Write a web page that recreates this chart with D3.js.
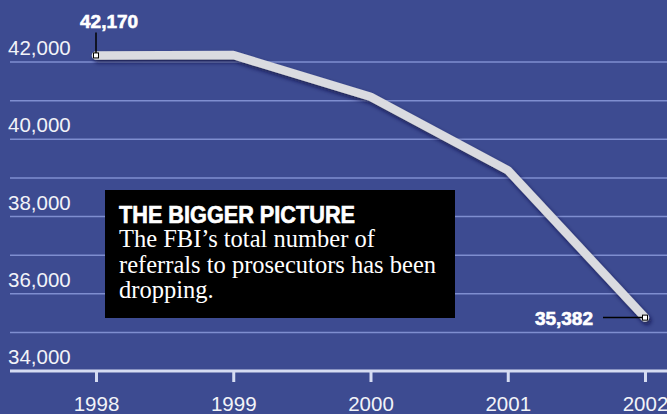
<!DOCTYPE html>
<html>
<head>
<meta charset="utf-8">
<script src="https://cdn.jsdelivr.net/npm/d3@7"></script>
<style>
  body { margin: 0; background: #3d4b91; }
  svg { display: block; }
</style>
</head>
<body>
<div id="chart"></div>
<script>
// FBI referrals to prosecutors, 1998-2002
var years = [1998, 1999, 2000, 2001, 2002];
var referrals = [42170, 42180, 41100, 39200, 35382];
var gridValues = [34000, 35000, 36000, 37000, 38000, 39000, 40000, 41000, 42000];
var labelValues = [34000, 36000, 38000, 40000, 42000];
var boxTitle = "THE BIGGER PICTURE";
var boxLines = ["The FBI\u2019s total number of",
                "referrals to prosecutors has been",
                "dropping."];

var width = 667,
    height = 414;

var svg = d3.select("#chart")
  .append("svg")
  .attr("width", width)
  .attr("height", height);

// background
svg.append("rect")
  .attr("width", width)
  .attr("height", height)
  .attr("fill", "#3d4b91");

// scales
var x = d3.scaleLinear()
  .domain([1998, 2002])
  .range([96, 645]);

var y = d3.scaleLinear()
  .domain([34000, 42000])
  .range([371, 62]);

// shadow under the line
var defs = svg.append("defs");
var shadow = defs.append("filter")
  .attr("id", "shadow")
  .attr("x", "-10%").attr("y", "-10%")
  .attr("width", "130%").attr("height", "130%");
shadow.append("feDropShadow")
  .attr("dx", 2)
  .attr("dy", 3)
  .attr("stdDeviation", 2)
  .attr("flood-color", "#0d1540")
  .attr("flood-opacity", 0.75);

// gridlines
svg.selectAll(".grid")
  .data(gridValues.filter(function(d) { return d > 34000; }))
  .enter()
  .append("line")
  .attr("class", "grid")
  .attr("x1", 10)
  .attr("x2", width)
  .attr("y1", function(d) { return y(d); })
  .attr("y2", function(d) { return y(d); })
  .attr("stroke", "#7f8ed0")
  .attr("stroke-width", 1.5);

// y labels sit above their gridline
svg.selectAll(".ylabel")
  .data(labelValues)
  .enter()
  .append("text")
  .attr("class", "ylabel")
  .attr("x", 8)
  .attr("y", function(d) { return y(d) - 7; })
  .attr("fill", "#f2f3f8")
  .style("font-family", "Liberation Sans, Arial, sans-serif")
  .style("font-size", "20.5px")
  .text(function(d) { return d3.format(",")(d); });

// x axis
var xAxis = d3.axisBottom(x)
  .tickValues(years)
  .tickFormat(d3.format("d"))
  .tickSize(11)
  .tickPadding(14);

var gx = svg.append("g")
  .attr("transform", "translate(0," + y(34000) + ")")
  .call(xAxis);

gx.select(".domain").remove();
gx.append("line")
  .attr("x1", 10)
  .attr("x2", width)
  .attr("stroke", "#d6dcf2")
  .attr("stroke-width", 3);
gx.selectAll(".tick line")
  .attr("stroke", "#d6dcf2")
  .attr("stroke-width", 3);
gx.selectAll(".tick text")
  .attr("fill", "#f2f3f8")
  .style("font-family", "Liberation Sans, Arial, sans-serif")
  .style("font-size", "20.5px");

// the line
var data = years.map(function(d, i) { return {year: d, value: referrals[i]}; });

var line = d3.line()
  .x(function(d) { return x(d.year); })
  .y(function(d) { return y(d.value); });

svg.append("path")
  .datum(data)
  .attr("d", line)
  .attr("fill", "none")
  .attr("stroke", "#dadbe0")
  .attr("stroke-width", 8.5)
  .attr("stroke-linecap", "round")
  .attr("stroke-linejoin", "round")
  .attr("filter", "url(#shadow)");

// end point callouts
var first = data[0],
    last = data[data.length - 1];

svg.append("line")
  .attr("x1", x(first.year))
  .attr("x2", x(first.year))
  .attr("y1", y(first.value) - 23)
  .attr("y2", y(first.value))
  .attr("stroke", "#000")
  .attr("stroke-width", 1.5);

svg.append("line")
  .attr("x1", x(last.year) - 42)
  .attr("x2", x(last.year))
  .attr("y1", y(last.value))
  .attr("y2", y(last.value))
  .attr("stroke", "#000")
  .attr("stroke-width", 1.5);

svg.selectAll(".marker")
  .data([first, last])
  .enter()
  .append("rect")
  .attr("class", "marker")
  .attr("x", function(d) { return x(d.year) - 2.5; })
  .attr("y", function(d) { return y(d.value) - 2.5; })
  .attr("width", 5)
  .attr("height", 5)
  .attr("fill", "#fff")
  .attr("stroke", "#000")
  .attr("stroke-width", 1);

svg.append("text")
  .attr("x", x(first.year) - 16)
  .attr("y", y(first.value) - 27)
  .attr("fill", "#fff")
  .attr("stroke", "#fff")
  .attr("stroke-width", 0.6)
  .style("font-family", "Liberation Sans, Arial, sans-serif")
  .style("font-weight", "bold")
  .style("font-size", "19px")
  .text(d3.format(",")(first.value));

svg.append("text")
  .attr("x", x(last.year) - 52)
  .attr("y", y(last.value) + 7)
  .attr("text-anchor", "end")
  .attr("fill", "#fff")
  .attr("stroke", "#fff")
  .attr("stroke-width", 0.6)
  .style("font-family", "Liberation Sans, Arial, sans-serif")
  .style("font-weight", "bold")
  .style("font-size", "19px")
  .text(d3.format(",")(last.value));

// black text box
var box = svg.append("g")
  .attr("transform", "translate(105,190)");

box.append("rect")
  .attr("width", 350)
  .attr("height", 128)
  .attr("fill", "#000");

box.append("text")
  .attr("x", 14)
  .attr("y", 33)
  .attr("fill", "#fff")
  .attr("stroke", "#fff")
  .attr("stroke-width", 0.6)
  .attr("textLength", 236)
  .attr("lengthAdjust", "spacingAndGlyphs")
  .style("font-family", "Liberation Sans, Arial, sans-serif")
  .style("font-weight", "bold")
  .style("font-size", "23px")
  .text(boxTitle);

box.selectAll(".body")
  .data(boxLines)
  .enter()
  .append("text")
  .attr("class", "body")
  .attr("x", 14)
  .attr("y", function(d, i) { return 57 + i * 25.5; })
  .attr("fill", "#fff")
  .style("font-family", "Liberation Serif, Times New Roman, serif")
  .style("font-size", "24.5px")
  .text(function(d) { return d; });
</script>
</body>
</html>
